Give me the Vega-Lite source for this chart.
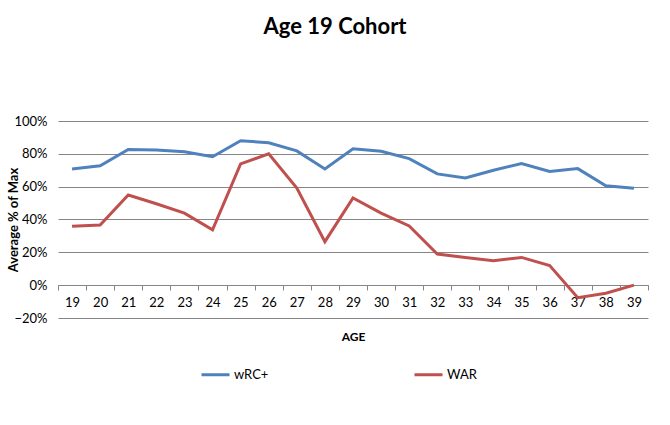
{
  "$schema": "https://vega.github.io/schema/vega-lite/v6.json",
  "width": 590,
  "height": 197,
  "autosize": "none",
  "padding": {"left": 58, "top": 121, "right": 22, "bottom": 107},
  "background": "white",
  "title": {
    "text": "Age 19 Cohort",
    "font": "Lato",
    "fontSize": 22,
    "fontWeight": "bold",
    "color": "#000000",
    "anchor": "middle",
    "dx": -18,
    "offset": 76
  },
  "config": {
    "view": {"stroke": null},
    "font": "Lato"
  },
  "data": {
    "values": [
      {"age": 19, "series": "wRC+", "value": 0.708},
      {"age": 20, "series": "wRC+", "value": 0.727},
      {"age": 21, "series": "wRC+", "value": 0.827},
      {"age": 22, "series": "wRC+", "value": 0.824},
      {"age": 23, "series": "wRC+", "value": 0.812},
      {"age": 24, "series": "wRC+", "value": 0.782},
      {"age": 25, "series": "wRC+", "value": 0.880},
      {"age": 26, "series": "wRC+", "value": 0.867},
      {"age": 27, "series": "wRC+", "value": 0.818},
      {"age": 28, "series": "wRC+", "value": 0.708},
      {"age": 29, "series": "wRC+", "value": 0.831},
      {"age": 30, "series": "wRC+", "value": 0.816},
      {"age": 31, "series": "wRC+", "value": 0.771},
      {"age": 32, "series": "wRC+", "value": 0.678},
      {"age": 33, "series": "wRC+", "value": 0.653},
      {"age": 34, "series": "wRC+", "value": 0.700},
      {"age": 35, "series": "wRC+", "value": 0.741},
      {"age": 36, "series": "wRC+", "value": 0.692},
      {"age": 37, "series": "wRC+", "value": 0.710},
      {"age": 38, "series": "wRC+", "value": 0.606},
      {"age": 39, "series": "wRC+", "value": 0.590},
      {"age": 19, "series": "WAR", "value": 0.359},
      {"age": 20, "series": "WAR", "value": 0.367},
      {"age": 21, "series": "WAR", "value": 0.549},
      {"age": 22, "series": "WAR", "value": 0.496},
      {"age": 23, "series": "WAR", "value": 0.439},
      {"age": 24, "series": "WAR", "value": 0.337},
      {"age": 25, "series": "WAR", "value": 0.739},
      {"age": 26, "series": "WAR", "value": 0.800},
      {"age": 27, "series": "WAR", "value": 0.592},
      {"age": 28, "series": "WAR", "value": 0.265},
      {"age": 29, "series": "WAR", "value": 0.531},
      {"age": 30, "series": "WAR", "value": 0.439},
      {"age": 31, "series": "WAR", "value": 0.361},
      {"age": 32, "series": "WAR", "value": 0.190},
      {"age": 33, "series": "WAR", "value": 0.169},
      {"age": 34, "series": "WAR", "value": 0.149},
      {"age": 35, "series": "WAR", "value": 0.169},
      {"age": 36, "series": "WAR", "value": 0.120},
      {"age": 37, "series": "WAR", "value": -0.076},
      {"age": 38, "series": "WAR", "value": -0.049},
      {"age": 39, "series": "WAR", "value": 0.0}
    ]
  },
  "mark": {"type": "line", "strokeWidth": 3},
  "encoding": {
    "x": {
      "field": "age",
      "type": "ordinal",
      "scale": {"type": "band", "paddingInner": 0, "paddingOuter": 0},
      "axis": {
        "title": "AGE",
        "titleFont": "Lato",
        "titleFontSize": 12,
        "titleFontWeight": "bold",
        "titleColor": "#000000",
        "titleY": 51,
        "titleBaseline": "middle",
        "offset": -33,
        "labelAngle": 0,
        "labelFont": "Lato",
        "labelFontSize": 13,
        "labelColor": "#000000",
        "labelPadding": 6,
        "tickBand": "extent",
        "tickColor": "#868686",
        "tickSize": 5,
        "domainColor": "#868686",
        "grid": false
      }
    },
    "y": {
      "field": "value",
      "type": "quantitative",
      "scale": {"domain": [-0.2, 1.0], "nice": false, "zero": false},
      "axis": {
        "title": "Average % of Max",
        "titleFont": "Lato",
        "titleFontSize": 13,
        "titleFontWeight": "bold",
        "titleColor": "#000000",
        "titleX": -45,
        "titleAngle": -90,
        "titleBaseline": "middle",
        "values": [-0.2, 0, 0.2, 0.4, 0.6, 0.8, 1.0],
        "format": ".0%",
        "labelFont": "Lato",
        "labelFontSize": 13,
        "labelColor": "#000000",
        "labelPadding": 11,
        "ticks": false,
        "domain": false,
        "grid": true,
        "gridColor": "#868686",
        "gridOpacity": 1
      }
    },
    "color": {
      "field": "series",
      "type": "nominal",
      "sort": ["wRC+", "WAR"],
      "scale": {"domain": ["wRC+", "WAR"], "range": ["#4F81BD", "#C0504D"]},
      "legend": {
        "title": null,
        "orient": "none",
        "direction": "horizontal",
        "columns": 2,
        "legendX": 142,
        "legendY": 238,
        "symbolType": "stroke",
        "symbolSize": 784,
        "symbolStrokeWidth": 3,
        "labelFont": "Lato",
        "labelFontSize": 13,
        "labelColor": "#000000",
        "labelOffset": 3,
        "columnPadding": 139
      }
    }
  }
}
